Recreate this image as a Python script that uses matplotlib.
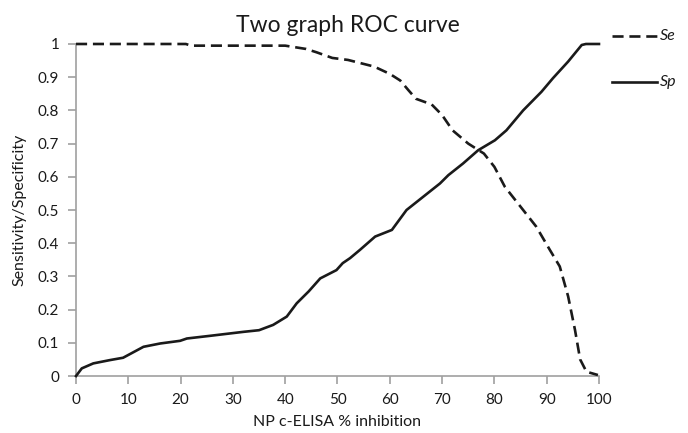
import matplotlib
matplotlib.use("Agg")
import matplotlib.pyplot as plt
from matplotlib.lines import Line2D

plt.rcParams['font.family'] = ['Lato', 'DejaVu Sans']

# Data
se_x = [0, 21, 22, 40, 42, 44, 46, 49, 52, 55, 57, 60, 62, 63.5, 65, 68, 70, 72, 75,
        78, 80, 82, 85.5, 88, 90.6, 92.5, 94.1, 95.4, 96.4, 97.6, 99.8]
se_y = [1.0, 1.0, 0.995, 0.995, 0.99, 0.985, 0.975, 0.958, 0.952, 0.94, 0.932, 0.91,
        0.89, 0.862, 0.835, 0.818, 0.786, 0.74, 0.70, 0.67, 0.63, 0.57, 0.50, 0.45,
        0.38, 0.33, 0.24, 0.14, 0.05, 0.013, 0.003]

sp_x = [0, 1.1, 3.3, 6.5, 9.0, 12.9, 16.1, 19.9, 21.2, 25.6, 32, 35, 37.7, 40.3, 42.2,
        44.5, 46.7, 49.8, 51, 52.4, 54.3, 57.2, 60.4, 63.2, 66.4, 69.6, 71.2, 74,
        76.9, 80.1, 82.3, 85.5, 89, 91.2, 94.1, 96.7, 97.5, 100]
sp_y = [0.0, 0.023, 0.038, 0.048, 0.055, 0.088, 0.098, 0.106, 0.113, 0.121, 0.133,
        0.138, 0.154, 0.179, 0.219, 0.255, 0.294, 0.319, 0.34, 0.355, 0.38, 0.42,
        0.44, 0.50, 0.54, 0.58, 0.605, 0.64, 0.68, 0.71, 0.74, 0.80, 0.856, 0.897,
        0.947, 0.997, 1.0, 1.0]

series_labels = ['Se', 'Sp']
x_ticks = [0, 10, 20, 30, 40, 50, 60, 70, 80, 90, 100]
y_ticks = [0, 0.1, 0.2, 0.3, 0.4, 0.5, 0.6, 0.7, 0.8, 0.9, 1]
y_labels = ['0', '0.1', '0.2', '0.3', '0.4', '0.5', '0.6', '0.7', '0.8', '0.9', '1']

LC = '#1a1a1a'
LW = 1.9
DASH = (0, (4.2, 2.2))

fig = plt.figure(figsize=(6.88, 4.33), dpi=100)
ax = fig.add_axes([0.1105, 0.1316, 0.7601, 0.7668])

ax.plot(se_x, se_y, color=LC, lw=LW, ls=DASH, clip_on=False, zorder=3)
ax.plot(sp_x, sp_y, color=LC, lw=LW, clip_on=False, zorder=3)

ax.set_xlim(0, 100)
ax.set_ylim(0, 1)
ax.set_xticks(x_ticks)
ax.set_yticks(y_ticks)
ax.set_yticklabels(y_labels)
for s in ['top', 'right']:
    ax.spines[s].set_visible(False)
for s in ['left', 'bottom']:
    ax.spines[s].set_color('#a0a0a0')
    ax.spines[s].set_linewidth(1.2)
ax.tick_params(axis='both', colors='#a0a0a0', length=6, width=1.2, labelsize=11,
               labelcolor=LC)
ax.tick_params(axis='x', pad=6)
ax.tick_params(axis='y', pad=6)

ax.text(0.5 + 10 / 523, 1.0 + 8 / 332, 'Two graph ROC curve', transform=ax.transAxes,
        fontsize=16.5, color=LC, ha='center', va='bottom')
ax.set_xlabel('NP c-ELISA % inhibition', fontsize=11.5, color=LC, labelpad=6)
ax.set_ylabel('Sensitivity/Specificity', fontsize=11.5, color=LC, labelpad=8)

# Legend drawn at the right, outside the axes
styles = [DASH, '-']
ys = [1 - 36 / 433, 1 - 82 / 433]
for lab, st, yy in zip(series_labels, styles, ys):
    fig.add_artist(Line2D([612 / 688, 657 / 688], [yy, yy], color=LC, lw=LW, ls=st))
    fig.text(660 / 688, yy, lab, fontsize=11.5, style='italic', color=LC,
             va='center', ha='left')

fig.savefig('out.png', dpi=100)
